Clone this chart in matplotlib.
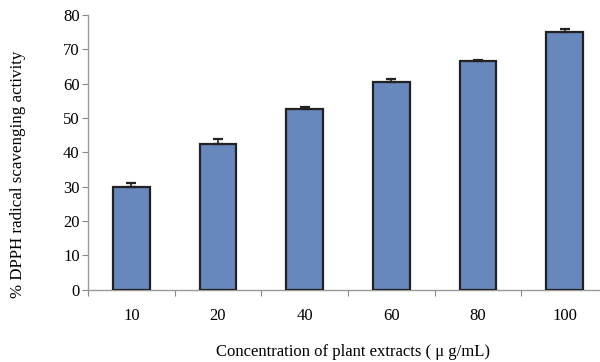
import matplotlib
matplotlib.use("Agg")
import matplotlib.pyplot as plt
import numpy as np

categories = ["10", "20", "40", "60", "80", "100"]
values = [29.8, 42.3, 52.5, 60.4, 66.5, 74.9]
errors = [1.1, 1.6, 0.6, 0.9, 0.4, 0.9]
yticks = [0, 10, 20, 30, 40, 50, 60, 70, 80]

plt.rcParams['font.family'] = ['Liberation Serif', 'DejaVu Serif']

fig = plt.figure(figsize=(6.0, 3.62), dpi=100)
ax = fig.add_axes([88/600, 72.5/362, 520/600, 274.5/362])

x = np.arange(len(categories))
ax.bar(x, values, width=0.42, color='#6787BD', edgecolor='#222222', linewidth=1.6,
       yerr=[np.zeros(len(errors)), errors],
       error_kw=dict(ecolor='#222222', elinewidth=1.2, capsize=3.5, capthick=1.6),
       zorder=3)

ax.set_xlim(-0.5, len(categories) - 0.5)
ax.set_ylim(0, 80)
ax.set_yticks(yticks)
ax.set_yticklabels([str(v) for v in yticks], fontsize=12)

ax.set_xticks(np.arange(-0.5, len(categories), 1.0))
ax.set_xticklabels([])
ax.set_xticks(x, minor=True)
ax.set_xticklabels(categories, minor=True, fontsize=12)
ax.tick_params(axis='x', which='minor', length=0, pad=13)
ax.tick_params(axis='x', which='major', length=4, color='#888888', direction='out')
ax.tick_params(axis='y', length=4, color='#888888', direction='out', pad=2)

for s in ['top', 'right']:
    ax.spines[s].set_visible(False)
for s in ['left', 'bottom']:
    ax.spines[s].set_color('#999999')
    ax.spines[s].set_linewidth(1.0)

fig.text(18/600, 1 - 174/362, "% DPPH radical scavenging activity", rotation=90,
         ha='center', va='center', fontsize=12.2)
fig.text(353/600, 1 - 352/362, "Concentration of plant extracts ( \u03bc g/mL)",
         ha='center', va='center', fontsize=12)

fig.savefig("out.png", dpi=100)
